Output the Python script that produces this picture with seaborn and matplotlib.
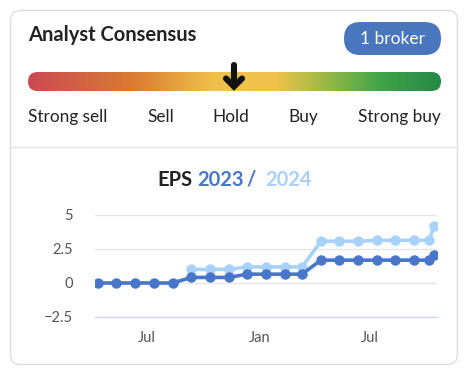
import numpy as np
import pandas as pd
import matplotlib
matplotlib.use("Agg")
import matplotlib.pyplot as plt
import matplotlib.dates as mdates
from matplotlib.patches import FancyBboxPatch
from matplotlib.colors import LinearSegmentedColormap
import seaborn as sns

# EPS estimate history
dates = pd.to_datetime([
    "2022-04-12", "2022-05-12", "2022-06-12", "2022-07-12", "2022-08-12",
    "2022-09-12", "2022-10-12", "2022-11-12", "2022-12-12", "2023-01-12",
    "2023-02-12", "2023-03-12", "2023-04-12", "2023-05-12", "2023-06-12",
    "2023-07-12", "2023-08-12", "2023-09-12", "2023-10-06", "2023-10-14",
])
eps_2023 = [0, 0, 0, 0, 0, 0.41, 0.41, 0.41, 0.65, 0.65, 0.65, 0.65,
            1.68, 1.68, 1.68, 1.68, 1.68, 1.68, 1.68, 2.09]
eps_2024 = [np.nan] * 5 + [1.0, 1.0, 1.0, 1.18, 1.18, 1.18, 1.18,
                           3.07, 3.07, 3.07, 3.14, 3.14, 3.14, 3.14, 4.17]

rating_labels = ["Strong sell", "Sell", "Hold", "Buy", "Strong buy"]
broker_count = 1

dark_blue = "#4876c8"
light_blue = "#a9d2fb"

sns.set_style("white")
plt.rcParams["font.family"] = ["Lato", "DejaVu Sans"]

fig = plt.figure(figsize=(4.68, 3.70), dpi=100)

# overlay in pixel coordinates for the card
bg = fig.add_axes([0, 0, 1, 1])
bg.set_axis_off()

card = FancyBboxPatch((10.5, 10.5), 447, 354, boxstyle="round,pad=0,rounding_size=10",
                      facecolor="white", edgecolor="#dedede", linewidth=1, zorder=0)
bg.add_patch(card)
bg.plot([11, 457], [147, 147], color="#e3e3e3", linewidth=1)

bg.text(28, 41, "Analyst Consensus", fontsize=14.5, fontweight="bold",
        color="#222222", va="baseline")

pill = FancyBboxPatch((344, 22), 97, 33, boxstyle="round,pad=0,rounding_size=16.5",
                      facecolor="#4a76bd", edgecolor="none")
bg.add_patch(pill)
bg.text(392.5, 39, f"{broker_count} broker", fontsize=12.5, color="white",
        ha="center", va="center")

# gradient bar
cmap = LinearSegmentedColormap.from_list("consensus", [
    (0.0, "#cc4a55"), (0.25, "#d97a31"), (0.45, "#efc14a"), (0.6, "#f0c34b"),
    (0.72, "#9bba45"), (0.85, "#43a548"), (1.0, "#238a45"),
])
grad = np.linspace(0, 1, 400).reshape(1, -1)
im = bg.imshow(grad, cmap=cmap, extent=(28, 441, 91, 72), aspect="auto", zorder=2)
bar = FancyBboxPatch((28, 72), 413, 19, boxstyle="round,pad=0,rounding_size=9.5",
                     facecolor="none", edgecolor="none")
bg.add_patch(bar)
im.set_clip_path(bar)

# arrow marker at Hold
bg.plot([234, 234], [65, 86], color="#111111", linewidth=4.4, solid_capstyle="round", zorder=3)
bg.plot([226, 234, 242], [78.5, 86.5, 78.5], color="#111111", linewidth=4.4,
        solid_capstyle="round", solid_joinstyle="miter", zorder=3)

label_x = [28, 161, 231, 303, 441]
label_ha = ["left", "center", "center", "center", "right"]
for lx, ha, lab in zip(label_x, label_ha, rating_labels):
    bg.text(lx, 122, lab, fontsize=12.4, color="#222222", ha=ha, va="baseline")

# chart title with coloured parts
bg.text(157, 186, "EPS", fontsize=14.5, fontweight="bold", color="#222222", va="baseline")
bg.text(197, 186, "2023", fontsize=14.5, fontweight="bold", color=dark_blue, va="baseline")
bg.text(246, 186, "/", fontsize=14.5, fontweight="bold", color=dark_blue, va="baseline")
bg.text(265, 186, "2024", fontsize=14.5, fontweight="bold", color=light_blue, va="baseline")

bg.set_xlim(0, 468)
bg.set_ylim(370, 0)

# EPS line chart
df = pd.DataFrame({"date": dates, "EPS 2023": eps_2023, "EPS 2024": eps_2024})
ax = fig.add_axes([95 / 468, 53 / 370, 342 / 468, 102 / 370])
sns.lineplot(data=df, x="date", y="EPS 2024", ax=ax, color=light_blue, linewidth=2.6,
             marker="o", markersize=7.5, markeredgewidth=0)
sns.lineplot(data=df, x="date", y="EPS 2023", ax=ax, color=dark_blue, linewidth=2.6,
             marker="o", markersize=7.5, markeredgewidth=0)

ax.set_ylim(-2.5, 5)
ax.set_yticks([-2.5, 0, 2.5, 5])
ax.set_yticklabels(["\u22122.5", "0", "2.5", "5"])
ax.set_xlim(pd.Timestamp("2022-04-07"), pd.Timestamp("2023-10-19"))
ax.xaxis.set_major_locator(mdates.MonthLocator(bymonth=[1, 7]))
ax.xaxis.set_major_formatter(mdates.DateFormatter("%b"))
ax.set_xlabel("")
ax.set_ylabel("")
ax.patch.set_alpha(0)
ax.grid(axis="y", color="#e6e6e6", linewidth=1)
ax.grid(axis="x", visible=False)
for side in ["top", "right", "left"]:
    ax.spines[side].set_visible(False)
ax.spines["bottom"].set_color("#ccd6eb")
ax.spines["bottom"].set_linewidth(1)
ax.tick_params(axis="y", length=0, pad=16, labelsize=10.5, labelcolor="#555555")
ax.tick_params(axis="x", length=8, width=1, color="#ccd6eb", pad=2,
               labelsize=10.5, labelcolor="#555555", direction="out")

fig.savefig("out.png", dpi=100)
